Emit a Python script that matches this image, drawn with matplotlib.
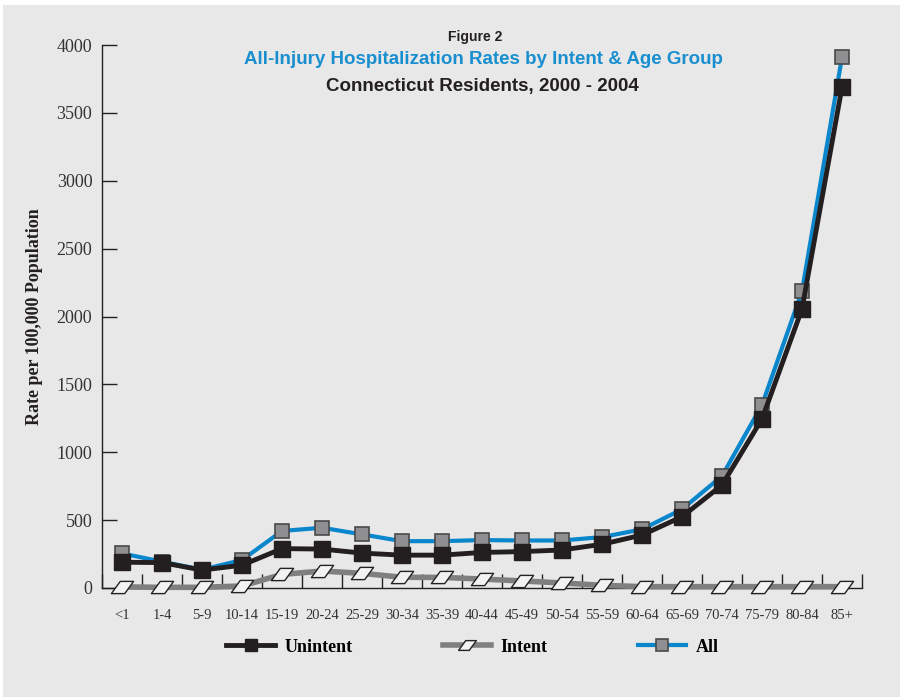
import matplotlib.pyplot as plt
from matplotlib.path import Path
from matplotlib.patches import Rectangle

ages = ['<1', '1-4', '5-9', '10-14', '15-19', '20-24', '25-29', '30-34', '35-39',
        '40-44', '45-49', '50-54', '55-59', '60-64', '65-69', '70-74', '75-79',
        '80-84', '85+']
unintent = [190, 187, 132, 168, 290, 287, 257, 242, 242, 262, 268, 280, 322,
            390, 525, 758, 1245, 2055, 3690]
intent = [8, 5, 5, 15, 100, 125, 108, 79, 78, 66, 52, 37, 20, 10, 10, 10, 10,
          10, 10]
all_inj = [255, 194, 135, 206, 420, 444, 395, 345, 345, 353, 350, 350, 375,
           432, 580, 825, 1348, 2187, 3910]
yticks = [0, 500, 1000, 1500, 2000, 2500, 3000, 3500, 4000]

bg = '#e8e8e8'
serif = ['Liberation Serif', 'DejaVu Serif']
title_font = ['DejaVu Sans Condensed', 'Liberation Sans']

# parallelogram marker for Intent
para = Path([(-1.0, -0.55), (0.2, -0.55), (1.0, 0.55), (-0.2, 0.55), (-1.0, -0.55)],
            [Path.MOVETO, Path.LINETO, Path.LINETO, Path.LINETO, Path.CLOSEPOLY])

fig = plt.figure(figsize=(9, 6.97), dpi=100)
fig.patch.set_facecolor('white')
fig.patches.append(Rectangle((3 / 900, 0), 1, 1 - 5 / 697, transform=fig.transFigure,
                             facecolor=bg, edgecolor='none', zorder=-10))

ax = fig.add_axes([102 / 900, (697 - 588) / 697, 760 / 900, 543 / 697])
ax.set_facecolor(bg)
ax.patch.set_alpha(0)

x = list(range(len(ages)))
ax.plot(x, all_inj, color='#0a87cc', lw=3, marker='s', ms=10, mfc='#8f8f91',
        mec='#4a4a4a', mew=1.2, label='All', zorder=3, clip_on=False)
ax.plot(x, intent, color='#7f7f7f', lw=4, marker=para, ms=16, mfc='#f2f2f2',
        mec='#222222', mew=1, label='Intent', zorder=4, clip_on=False)
ax.plot(x, unintent, color='#231f20', lw=3.5, marker='s', ms=11, mfc='#231f20',
        mec='#231f20', label='Unintent', zorder=5, clip_on=False)

ax.set_xlim(-0.5, len(ages) - 0.5)
ax.set_ylim(0, 4000)
ax.set_yticks(yticks)
ax.set_yticklabels([str(v) for v in yticks], fontfamily=serif, fontsize=13, color='#333333')
ax.set_xticks([i - 0.5 for i in range(len(ages) + 1)])
ax.set_xticklabels([])
ax.set_xticks(x, minor=True)
ax.set_xticklabels(ages, minor=True, fontfamily=serif, fontsize=10.5, color='#333333')
ax.tick_params(axis='x', which='major', direction='in', length=10, width=1, color='#222222')
ax.tick_params(axis='x', which='minor', length=0, pad=15)
ax.tick_params(axis='y', direction='in', length=11, width=1, color='#222222', pad=7)
for s in ['top', 'right']:
    ax.spines[s].set_visible(False)
for s in ['left', 'bottom']:
    ax.spines[s].set_color('#222222')
    ax.spines[s].set_linewidth(1)

ax.set_ylabel('Rate per 100,000 Population', fontfamily=serif, fontweight='bold',
              fontsize=13, color='#231f20', labelpad=10)

fig.text(0.528, 1 - 37 / 697, 'Figure 2', ha='center', va='center', fontsize=10,
         fontweight='bold', color='#231f20', family=title_font)
fig.text(0.537, 1 - 60 / 697, 'All-Injury Hospitalization Rates by Intent & Age Group',
         ha='center', va='center', fontsize=13.5, fontweight='bold', color='#1a8fd0',
         family=title_font)
fig.text(0.536, 1 - 86 / 697, 'Connecticut Residents, 2000 - 2004', ha='center',
         va='center', fontsize=13.5, fontweight='bold', color='#231f20', family=title_font)

h, l = ax.get_legend_handles_labels()
leg = fig.legend([h[2], h[1], h[0]], [l[2], l[1], l[0]], loc='center',
                 bbox_to_anchor=(0.525, 1 - 647 / 697), ncol=3, frameon=False,
                 prop={'family': serif, 'weight': 'bold', 'size': 13},
                 handlelength=2.7, columnspacing=5, handletextpad=0.5, markerscale=0.8)

fig.savefig('out.png', dpi=100, facecolor='white')
